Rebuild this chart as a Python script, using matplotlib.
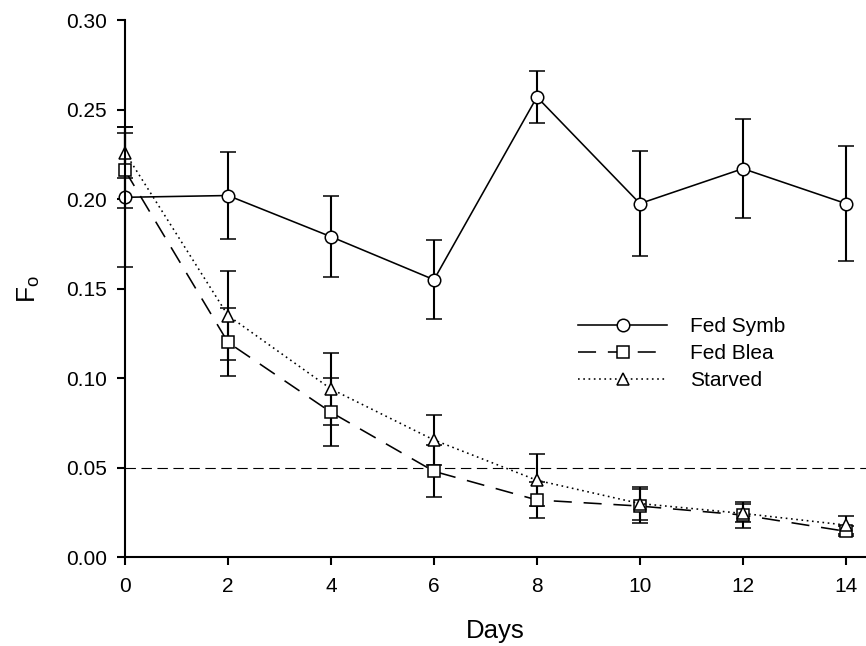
import matplotlib
matplotlib.use("Agg")
import matplotlib.pyplot as plt
from matplotlib.ticker import FormatStrFormatter

plt.rcParams['font.family'] = ['Liberation Sans', 'DejaVu Sans']
plt.rcParams['mathtext.fontset'] = 'custom'
plt.rcParams['mathtext.rm'] = 'Liberation Sans'
plt.rcParams['lines.scale_dashes'] = False

# data
days = [0, 2, 4, 6, 8, 10, 12, 14]
fed_symb = [0.201, 0.202, 0.179, 0.155, 0.257, 0.1975, 0.217, 0.1975]
fed_symb_err = [0.039, 0.0245, 0.0225, 0.022, 0.0144, 0.0295, 0.0278, 0.032]
fed_blea = [0.216, 0.120, 0.081, 0.048, 0.032, 0.0286, 0.0236, 0.0145]
fed_blea_err = [0.021, 0.019, 0.019, 0.0145, 0.0102, 0.0097, 0.0075, 0.0028]
starved = [0.226, 0.135, 0.094, 0.0655, 0.043, 0.030, 0.0245, 0.018]
starved_err = [0.014, 0.025, 0.020, 0.014, 0.0144, 0.009, 0.005, 0.005]
threshold = 0.05

xticks = [0, 2, 4, 6, 8, 10, 12, 14]
yticks = [0.00, 0.05, 0.10, 0.15, 0.20, 0.25, 0.30]

fig = plt.figure(figsize=(8.66, 6.46), dpi=100)
ax = fig.add_axes([125 / 866, (646 - 557.3) / 646, 1 - 125 / 866, 537.3 / 646])

ax.axhline(threshold, color='black', linewidth=0.8, linestyle=(0, (7.5, 4)), zorder=1)

series = [
    (fed_symb, fed_symb_err, 'Fed Symb', 'o', 9, '-'),
    (fed_blea, fed_blea_err, 'Fed Blea', 's', 8, (0, (13, 8.5))),
    (starved, starved_err, 'Starved', '^', 9, (0, (1.2, 2.6))),
]

handles = []
for vals, errs, name, mk, ms, ls in series:
    cont = ax.errorbar(days, vals, yerr=errs, color='black', linestyle=ls, linewidth=1.15,
                       marker=mk, markersize=ms, markerfacecolor='white',
                       markeredgecolor='black', markeredgewidth=1.1,
                       ecolor='black', elinewidth=1.5, capsize=6, capthick=1.5,
                       label=name)
    for art in [cont.lines[0]] + list(cont.lines[1]) + list(cont.lines[2]):
        art.set_clip_on(False)
    handles.append(cont.lines[0])

ax.set_xlim(0, 14.39)
ax.set_ylim(0, 0.30)
ax.set_xticks(xticks)
ax.set_yticks(yticks)
ax.yaxis.set_major_formatter(FormatStrFormatter('%.2f'))

ax.spines['top'].set_visible(False)
ax.spines['right'].set_visible(False)
ax.spines['left'].set_linewidth(1.5)
ax.spines['bottom'].set_linewidth(1.5)
ax.tick_params(direction='out', length=6, width=1.5, labelsize=15)
ax.tick_params(axis='x', pad=8)
ax.tick_params(axis='y', pad=7)

ax.set_xlabel('Days', fontsize=18.5, labelpad=17)
ax.set_ylabel(r'$\mathregular{F_o}$', fontsize=19, labelpad=17)

ax.legend(handles, [s[2] for s in series], loc='upper left', bbox_to_anchor=(0.611, 0.447),
          frameon=False, fontsize=15, handlelength=4.3, handletextpad=1.1,
          labelspacing=0.38, borderpad=0, borderaxespad=0)

plt.savefig('out.png', dpi=100)
